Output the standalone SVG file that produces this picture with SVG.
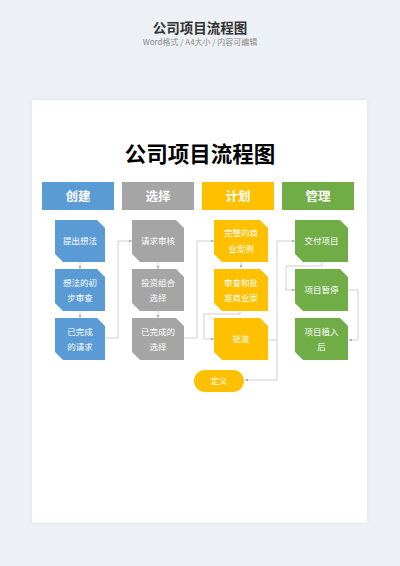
<svg xmlns="http://www.w3.org/2000/svg" width="400" height="566" viewBox="0 0 400 566">
<defs>
<style>
.hd{font-family:"Noto Sans CJK SC","Noto Sans",sans-serif;font-weight:bold;font-size:12.5px;fill:#fff;text-anchor:middle}
.nt{font-family:"Noto Sans CJK SC","Noto Sans",sans-serif;font-size:8.5px;fill:#fff;text-anchor:middle}
.cn{fill:none;stroke:#c4c4c4;stroke-width:0.8}
.blue{fill:#5b9bd5}.gray{fill:#a5a5a5}.yellow{fill:#ffc000}.green{fill:#70ad47}
</style>
<marker id="ar" viewBox="0 0 6 6" refX="6" refY="3" markerWidth="4" markerHeight="4" orient="auto">
<path d="M0,0L6,3L0,6Z" fill="#b0b0b0"/>
</marker>
<filter id="sh" x="-5%" y="-5%" width="110%" height="110%">
<feDropShadow dx="0" dy="0" stdDeviation="1.5" flood-color="#000" flood-opacity="0.08"/>
</filter>
</defs>
<rect width="400" height="566" fill="#edf0f4"/>
<text x="200" y="33" font-family="'Noto Sans CJK SC','Noto Sans',sans-serif" font-weight="bold" font-size="13.5" fill="#333" text-anchor="middle">公司项目流程图</text>
<text x="200" y="45" font-family="'Noto Sans CJK SC','Noto Sans',sans-serif" font-size="8" fill="#8a8a8a" text-anchor="middle">Word格式 / A4大小 / 内容可编辑</text>
<rect x="32" y="100" width="335" height="423" fill="#fff" filter="url(#sh)"/>
<text x="200" y="162" font-family="'Noto Sans CJK SC','Noto Sans',sans-serif" font-weight="bold" font-size="21.5" fill="#000" text-anchor="middle">公司项目流程图</text>

<g id="headers">
<g id="h-create"><rect x="42" y="182" width="72" height="28" class="blue"/><text x="78" y="201" class="hd">创建</text></g>
<g id="h-select"><rect x="122" y="182" width="72" height="28" class="gray"/><text x="158" y="201" class="hd">选择</text></g>
<g id="h-plan"><rect x="202" y="182" width="72" height="28" class="yellow"/><text x="238" y="201" class="hd">计划</text></g>
<g id="h-manage"><rect x="282" y="182" width="72" height="28" class="green"/><text x="318" y="201" class="hd">管理</text></g>
</g>

<g id="connectors">
<path class="cn" d="M80,262V269" marker-end="url(#ar)"/>
<path class="cn" d="M80,311V318" marker-end="url(#ar)"/>
<path class="cn" d="M105,338H118V241H132" marker-end="url(#ar)"/>
<path class="cn" d="M158,262V269" marker-end="url(#ar)"/>
<path class="cn" d="M158,311V318" marker-end="url(#ar)"/>
<path class="cn" d="M184,338H197V241H214" marker-end="url(#ar)"/>
<path class="cn" d="M241,262V268" marker-end="url(#ar)"/>
<path class="cn" d="M240,311V314H204V339H214" marker-end="url(#ar)"/>
<path class="cn" d="M268,340H277V241H295" marker-end="url(#ar)"/>
<path class="cn" d="M277,340V380H245" marker-end="url(#ar)"/>
<path class="cn" d="M322,262V266H286V290H295" marker-end="url(#ar)"/>
<path class="cn" d="M348,290H358V340H349" marker-end="url(#ar)"/>
</g>

<g id="n-b1"><path class="blue" d="M55,220H97L105,228V262H63L55,254Z"/><text x="80" y="244" class="nt">提出想法</text></g>
<g id="n-b2"><path class="blue" d="M55,269H97L105,277V311H63L55,303Z"/><text x="80" y="285.5" class="nt">想法的初</text><text x="80" y="301" class="nt">步审查</text></g>
<g id="n-b3"><path class="blue" d="M55,318H97L105,326V360H63L55,352Z"/><text x="80" y="334.5" class="nt">已完成</text><text x="80" y="350" class="nt">的请求</text></g>

<g id="n-g1"><path class="gray" d="M132,220H176L184,228V262H140L132,254Z"/><text x="158" y="244" class="nt">请求审核</text></g>
<g id="n-g2"><path class="gray" d="M132,269H176L184,277V311H140L132,303Z"/><text x="158" y="285.5" class="nt">投资组合</text><text x="158" y="301" class="nt">选择</text></g>
<g id="n-g3"><path class="gray" d="M132,318H176L184,326V360H140L132,352Z"/><text x="158" y="334.5" class="nt">已完成的</text><text x="158" y="350" class="nt">选择</text></g>

<g id="n-y1"><path class="yellow" d="M214,220H260L268,228V262H222L214,254Z"/><text x="241" y="236" class="nt">完整的商</text><text x="241" y="251.5" class="nt">业案例</text></g>
<g id="n-y2"><path class="yellow" d="M214,269H260L268,277V311H222L214,303Z"/><text x="241" y="285.5" class="nt">审查和批</text><text x="241" y="301" class="nt">准商业案</text></g>
<g id="n-y3"><path class="yellow" d="M214,318H260L268,326V360H222L214,352Z"/><text x="241" y="342" class="nt">批准</text></g>

<g id="n-gr1"><path class="green" d="M295,220H340L348,228V262H303L295,254Z"/><text x="321.5" y="244" class="nt">交付项目</text></g>
<g id="n-gr2"><path class="green" d="M295,269H340L348,277V311H303L295,303Z"/><text x="321.5" y="293" class="nt">项目暂停</text></g>
<g id="n-gr3"><path class="green" d="M295,318H340L348,326V360H303L295,352Z"/><text x="321.5" y="334.5" class="nt">项目植入</text><text x="321.5" y="350" class="nt">后</text></g>

<g id="n-define"><rect x="194" y="370" width="50" height="22" rx="11" class="yellow"/><text x="219" y="384" class="nt">定义</text></g>
</svg>
